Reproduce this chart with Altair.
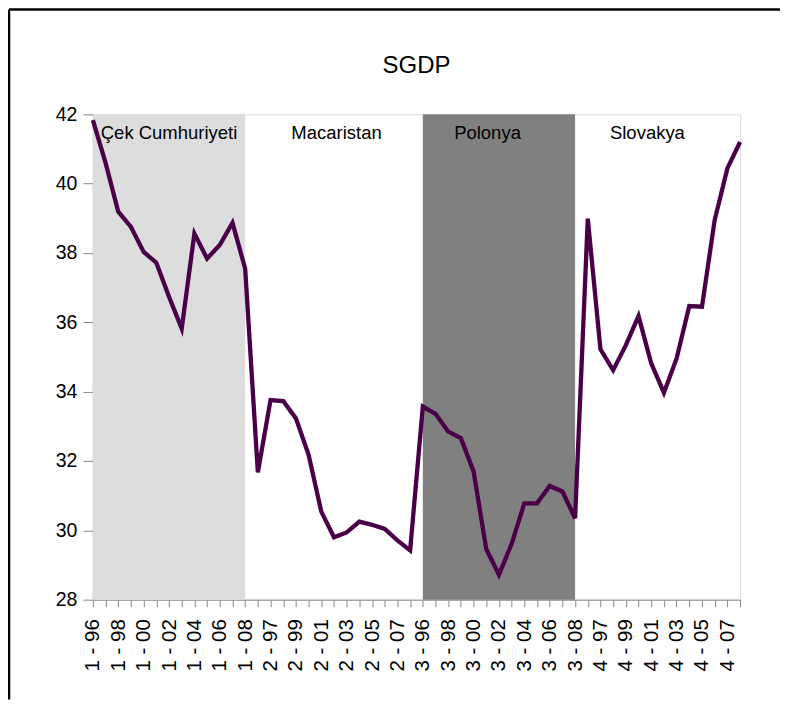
import json
import altair as alt
import pandas as pd

# ---- data ----
groups = ["1", "2", "3", "4"]
years = ["96", "97", "98", "99", "00", "01", "02", "03", "04", "05", "06", "07", "08"]
periods = [f"{g} - {y}" for g in groups for y in years]

cek = [41.83, 40.60, 39.19, 38.75, 38.03, 37.72, 36.74, 35.82, 38.56, 37.84, 38.23, 38.87, 37.55]
macaristan = [31.67, 33.76, 33.73, 33.23, 32.18, 30.54, 29.80, 29.94, 30.25, 30.16, 30.04, 29.71, 29.42]
polonya = [33.57, 33.36, 32.85, 32.66, 31.70, 29.46, 28.72, 29.61, 30.78, 30.78, 31.28, 31.12, 30.35]
slovakya = [38.99, 35.22, 34.62, 35.34, 36.18, 34.82, 33.97, 34.96, 36.47, 36.45, 38.95, 40.44, 41.20]
sgdp = cek + macaristan + polonya + slovakya

# tick labels: every other period is shown
tick_labels = [p if i % 2 == 0 else "" for i, p in enumerate(periods)]

panel_names = ["Çek Cumhuriyeti", "Macaristan", "Polonya", "Slovakya"]
panel_label_pos = [6.0, 19.2, 31.1, 43.7]

shade_start = [0, 26]
shade_end = [12, 38]
shade_color = ["#DDDDDD", "#808080"]

y_ticks = [28, 30, 32, 34, 36, 38, 40, 42]

W, H = 648, 486
FONT = "Liberation Sans"

df = pd.DataFrame({"idx": list(range(len(sgdp))), "period": periods, "sgdp": sgdp})
shades = pd.DataFrame({"start": shade_start, "end": shade_end, "color": shade_color})
labels = pd.DataFrame({"name": panel_names, "pos": panel_label_pos})
one = pd.DataFrame({"a": [0]})

xscale = alt.Scale(domain=[0, len(sgdp) - 1], nice=False, zero=False)
yscale = alt.Scale(domain=[28, 42], nice=False, zero=False)

xaxis = alt.Axis(
    values=list(range(len(sgdp))),
    labelExpr=f"{json.dumps(tick_labels)}[datum.value]",
    labelAngle=270, labelAlign="right", labelBaseline="middle",
    labelPadding=12, tickSize=7, labelFontSize=20.5, labelOverlap=False,
    labelFlush=False, title=None, grid=False,
)
yaxis = alt.Axis(values=y_ticks, tickSize=10, labelPadding=6, labelFontSize=19.5,
                 title=None, grid=False)

rects = alt.Chart(shades).mark_rect().encode(
    x=alt.X("start:Q", scale=xscale, axis=xaxis),
    x2="end:Q",
    y=alt.datum(42, scale=yscale, axis=yaxis),
    y2=alt.datum(28),
    color=alt.Color("color:N", scale=None),
)

line = alt.Chart(df).mark_line(color="#4a0048", strokeWidth=4.3).encode(
    x=alt.X("idx:Q", scale=xscale, axis=xaxis),
    y=alt.Y("sgdp:Q", scale=yscale, axis=yaxis),
)

txt = alt.Chart(labels).mark_text(font=FONT, fontSize=18.5, color="black",
                                  baseline="alphabetic", align="center").encode(
    x=alt.X("pos:Q", scale=xscale, axis=xaxis),
    y=alt.value(25),
    text="name:N",
)

title = alt.Chart(one).mark_text(font=FONT, fontSize=24, color="black",
                                 baseline="alphabetic", align="center").encode(
    x=alt.value(W / 2), y=alt.value(-41), text=alt.value("SGDP"),
)

frame_top = alt.Chart(one).mark_rule(color="black", strokeWidth=2.5).encode(
    x=alt.value(-84), x2=alt.value(W + 40), y=alt.value(-105))
frame_left = alt.Chart(one).mark_rule(color="black", strokeWidth=2.5).encode(
    x=alt.value(-84), y=alt.value(-105), y2=alt.value(H + 100))

chart = alt.layer(rects, line, txt, title, frame_top, frame_left).properties(
    width=W, height=H,
    autosize=alt.AutoSizeParams(type="none"),
    padding={"left": 85, "top": 106, "right": 40, "bottom": 100},
).configure_view(stroke="black", strokeWidth=1.2).configure_axis(
    domainColor="#555555", tickColor="#333333", labelColor="black",
    labelFont=FONT, domainWidth=1.2,
).configure(background="white")

chart.save("out.html", embed_options={"renderer": "svg", "actions": False})
